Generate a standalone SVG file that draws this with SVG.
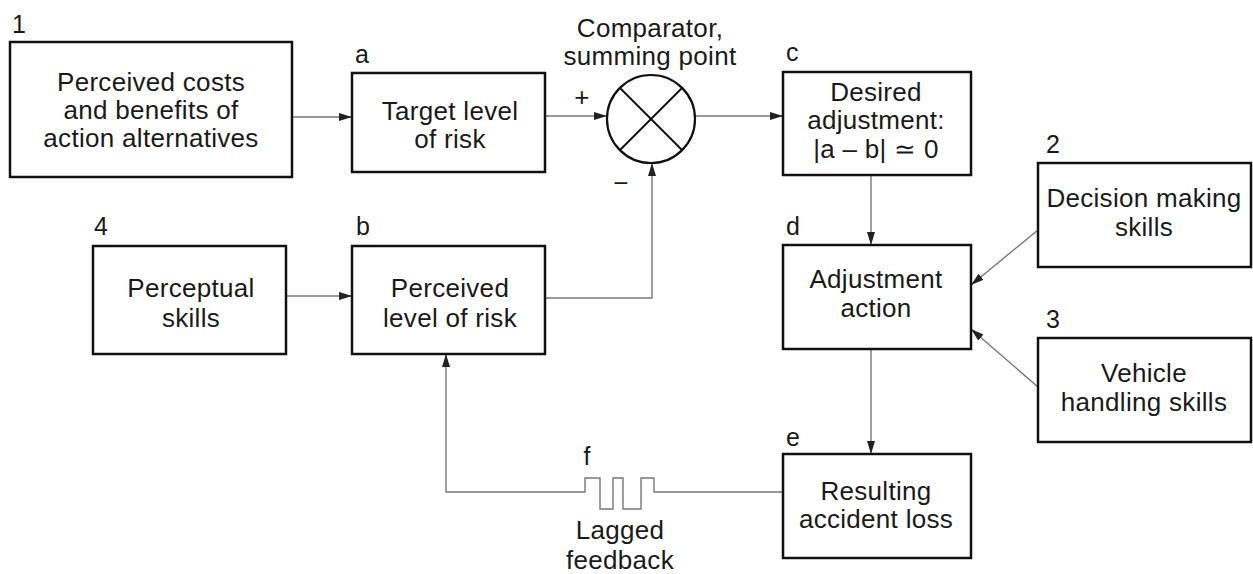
<svg xmlns="http://www.w3.org/2000/svg" width="1253" height="574" viewBox="0 0 1253 574">
<style>
.box{fill:#fff;stroke:#111;stroke-width:2.5}
.t{font-family:"Liberation Sans",Arial,sans-serif;font-size:26px;letter-spacing:0.3px;fill:#1a1a1a;text-anchor:middle}
.lbl{font-family:"Liberation Sans",Arial,sans-serif;font-size:25px;fill:#1a1a1a}
.c{fill:none;stroke:#777;stroke-width:1.4}
</style>
<defs>
<marker id="ah" markerUnits="userSpaceOnUse" markerWidth="14" markerHeight="10" refX="13" refY="4" orient="auto">
<path d="M0,0 L13,4 L0,8 z" fill="#222"/>
</marker>
</defs>
<rect width="1253" height="574" fill="#fff"/>

<g id="connectors">
<line class="c" x1="292" y1="117" x2="352" y2="117" marker-end="url(#ah)"/>
<line class="c" x1="545" y1="116" x2="607" y2="116" marker-end="url(#ah)"/>
<line class="c" x1="695" y1="116" x2="783" y2="116" marker-end="url(#ah)"/>
<line class="c" x1="286" y1="296" x2="352" y2="296" marker-end="url(#ah)"/>
<polyline class="c" points="545,298 652,298 652,163" marker-end="url(#ah)"/>
<line class="c" x1="871" y1="175" x2="871" y2="245" marker-end="url(#ah)"/>
<line class="c" x1="1038" y1="230" x2="971" y2="285" marker-end="url(#ah)"/>
<line class="c" x1="1038" y1="387" x2="971" y2="329" marker-end="url(#ah)"/>
<line class="c" x1="871" y1="349" x2="871" y2="454" marker-end="url(#ah)"/>
<polyline class="c" points="783,492 654,492 654,478 641,478 641,509 623,509 623,478 613,478 613,509 600,509 600,478 585,478 585,492 446,492 446,354" marker-end="url(#ah)"/>
</g>

<g id="node1">
<rect class="box" x="10" y="42" width="282" height="135" stroke-width="3"/>
<text class="lbl" x="12" y="33">1</text>
<text class="t" x="151" y="91">Perceived costs</text>
<text class="t" x="151" y="119">and benefits of</text>
<text class="t" x="151" y="147">action alternatives</text>
</g>

<g id="nodeA">
<rect class="box" x="352" y="73" width="193" height="99"/>
<text class="lbl" x="355" y="63">a</text>
<text class="t" x="450" y="120">Target level</text>
<text class="t" x="450" y="148">of risk</text>
</g>

<g id="comparator">
<text class="t" x="650" y="37">Comparator,</text>
<text class="t" x="650" y="65">summing point</text>
<circle cx="651" cy="119" r="44" fill="#fff" stroke="#111" stroke-width="2.2"/>
<line x1="620" y1="88" x2="682" y2="150" stroke="#111" stroke-width="2"/>
<line x1="682" y1="88" x2="620" y2="150" stroke="#111" stroke-width="2"/>
<text class="t" x="582" y="106">+</text>
<text class="t" x="621" y="192">−</text>
</g>

<g id="nodeC">
<rect class="box" x="783" y="72" width="188" height="103"/>
<text class="lbl" x="786" y="61">c</text>
<text class="t" x="876" y="101">Desired</text>
<text class="t" x="876" y="129">adjustment:</text>
<text class="t" x="876" y="158">|a – b| ≃ 0</text>
</g>

<g id="node4">
<rect class="box" x="93" y="246" width="193" height="108" stroke-width="2"/>
<text class="lbl" x="94" y="235">4</text>
<text class="t" x="191" y="297">Perceptual</text>
<text class="t" x="191" y="327">skills</text>
</g>

<g id="nodeB">
<rect class="box" x="352" y="246" width="193" height="108"/>
<text class="lbl" x="356" y="235">b</text>
<text class="t" x="450" y="297">Perceived</text>
<text class="t" x="450" y="327">level of risk</text>
</g>

<g id="nodeD">
<rect class="box" x="783" y="245" width="188" height="104"/>
<text class="lbl" x="786" y="235">d</text>
<text class="t" x="876" y="288">Adjustment</text>
<text class="t" x="876" y="317">action</text>
</g>

<g id="node2">
<rect class="box" x="1038" y="163" width="213" height="104"/>
<text class="lbl" x="1046" y="153">2</text>
<text class="t" x="1144" y="207">Decision making</text>
<text class="t" x="1144" y="236">skills</text>
</g>

<g id="node3">
<rect class="box" x="1038" y="338" width="213" height="104"/>
<text class="lbl" x="1046" y="328">3</text>
<text class="t" x="1144" y="382">Vehicle</text>
<text class="t" x="1144" y="411">handling skills</text>
</g>

<g id="nodeE">
<rect class="box" x="783" y="454" width="188" height="104"/>
<text class="lbl" x="786" y="446">e</text>
<text class="t" x="876" y="500">Resulting</text>
<text class="t" x="876" y="528">accident loss</text>
</g>

<g id="nodeF">
<text class="lbl" x="587" y="465" text-anchor="middle">f</text>
<text class="t" x="620" y="539">Lagged</text>
<text class="t" x="620" y="569">feedback</text>
</g>
</svg>
